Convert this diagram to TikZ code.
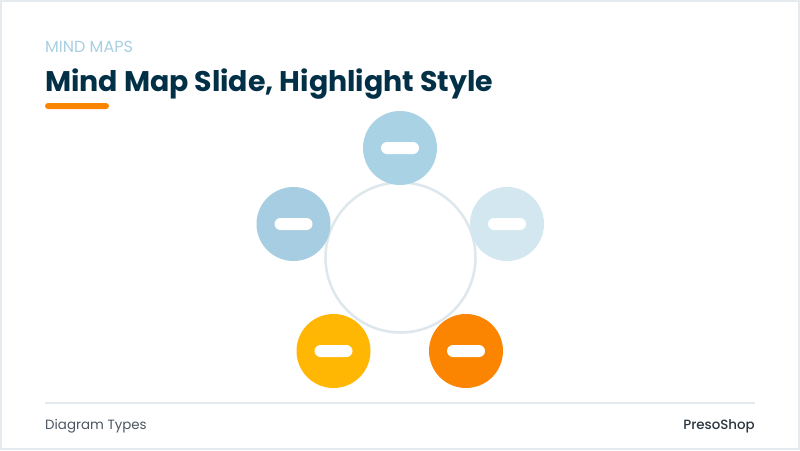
\documentclass[tikz,border=0pt]{standalone}
\usepackage{fontspec}
\setmainfont{Poppins}
\newfontfamily\popbold{Poppins}[UprightFont=* Bold]
\newfontfamily\popmed{Poppins}[UprightFont=* Medium]
\definecolor{navy}{HTML}{023047}
\definecolor{kicker}{HTML}{A8D0E2}
\definecolor{orng}{HTML}{FB8500}
\definecolor{yel}{HTML}{FFB703}
\definecolor{bluea}{HTML}{A9D3E5}
\definecolor{blueb}{HTML}{A6CDE1}
\definecolor{bluec}{HTML}{D2E7F0}
\definecolor{framec}{HTML}{E4EAEE}
\definecolor{hubc}{HTML}{DDE7EC}
\definecolor{foot}{HTML}{4A5560}
\definecolor{footb}{HTML}{2B3640}
\begin{document}
\begin{tikzpicture}[x=1pt,y=-1pt,
  bubble/.style={circle,minimum size=74pt,inner sep=0pt,draw=none},
  pill/.style={fill=white,rounded corners=6pt,minimum width=38pt,minimum height=12pt,inner sep=0pt},
  lbl/.style={inner sep=0pt}]
\useasboundingbox (0,0) rectangle (800,450);
\fill[white] (0,0) rectangle (800,450);
\draw[framec,line width=2pt] (1,1) rectangle (799,449);
% header
\node[lbl,anchor=base west,text=kicker,font=\fontsize{16}{19}\selectfont] (kick) at (45,52) {MIND MAPS};
\node[lbl,anchor=base west,text=navy,font=\popbold\fontsize{28.4}{32}\selectfont] (title) at (45,91) {Mind Map Slide, Highlight Style};
\fill[orng,rounded corners=3pt] (45,103) rectangle (109,109);
% hub
\node[circle,draw=hubc,line width=2.5pt,minimum size=150pt,inner sep=0pt] (hub) at (400.5,257.5) {};
% bubbles
\node[bubble,fill=bluea] (top) at (400,148) {};
\node[bubble,fill=blueb] (left) at (293.5,224) {};
\node[bubble,fill=bluec] (right) at (507,224) {};
\node[bubble,fill=yel] (bl) at (333.5,351) {};
\node[bubble,fill=orng] (br) at (466,351) {};
\foreach \n in {top,left,right,bl,br}{\node[pill] (p\n) at (\n) {};}
% footer
\draw[framec,line width=2pt] (45,403) -- (755,403);
\node[lbl,anchor=base west,text=foot,font=\fontsize{13.4}{16}\selectfont] (ft1) at (45,429) {Diagram Types};
\node[lbl,anchor=base east,text=footb,font=\popmed\fontsize{13.4}{16}\selectfont] (ft2) at (755,429) {PresoShop};
\end{tikzpicture}
\end{document}
